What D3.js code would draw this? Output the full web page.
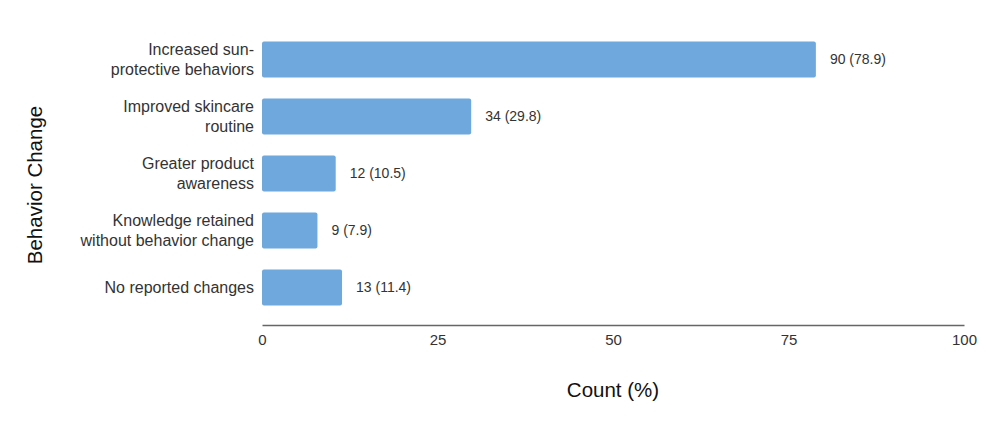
<!DOCTYPE html>
<html><head><meta charset="utf-8">
<script src="https://cdn.jsdelivr.net/npm/d3@7"></script>
<style>body{margin:0;background:#fff;}svg{font-family:"Liberation Sans",Arial,sans-serif;}</style>
</head><body>
<svg id="c" width="986" height="424"></svg>
<script>
const categories = [
  ["Increased sun-", "protective behaviors"],
  ["Improved skincare", "routine"],
  ["Greater product", "awareness"],
  ["Knowledge retained", "without behavior change"],
  ["No reported changes"]
];
const counts = [90, 34, 12, 9, 13];
const percents = [78.9, 29.8, 10.5, 7.9, 11.4];
const xTicks = [0, 25, 50, 75, 100];

const svg = d3.select("#c");
const x = d3.scaleLinear().domain([0, 100]).range([262, 964]);
const y = d3.scaleBand().domain(d3.range(categories.length)).range([31, 316]).paddingInner(0.37).paddingOuter(0.185);

svg.selectAll("rect.bar").data(percents).enter().append("rect")
  .attr("class","bar")
  .attr("x", x(0)).attr("y", (d,i)=>y(i))
  .attr("width", d=>x(d)-x(0)).attr("height", y.bandwidth())
  .attr("rx", 2).attr("fill", "#6fa8dc");

svg.selectAll("text.val").data(percents).enter().append("text")
  .attr("x", d=>x(d)+14).attr("y", (d,i)=>y(i)+y.bandwidth()/2)
  .attr("dy","0.35em").attr("font-size", 14).attr("fill","#333")
  .text((d,i)=>`${counts[i]} (${d})`);

categories.forEach((lines,i)=>{
  const cy = y(i)+y.bandwidth()/2;
  const t = svg.append("text").attr("text-anchor","end").attr("font-size",16).attr("fill","#333");
  lines.forEach((l,j)=>{
    t.append("tspan").attr("x",254).attr("y", cy + (j-(lines.length-1)/2)*19.5).attr("dy","0.35em").text(l);
  });
});

const ax = svg.append("g").attr("transform","translate(0,325)")
  .call(d3.axisBottom(x).tickValues(xTicks).tickSize(0).tickPadding(9));
ax.select(".domain").attr("stroke","#666").attr("stroke-width",1.5);
ax.selectAll("text").attr("font-size",15).attr("fill","#333").attr("font-family","Liberation Sans, Arial, sans-serif");

svg.append("text").attr("x",613).attr("y",390).attr("dy","0.35em").attr("text-anchor","middle")
  .attr("font-size",20.5).attr("fill","#111").text("Count (%)");
svg.append("text").attr("transform","translate(35,185) rotate(-90)").attr("dy","0.35em").attr("text-anchor","middle")
  .attr("font-size",20.5).attr("fill","#111").text("Behavior Change");
</script>
</body></html>
